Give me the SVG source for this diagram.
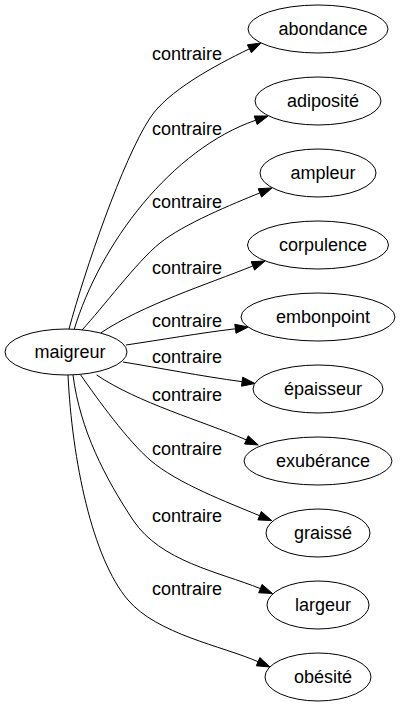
<svg xmlns="http://www.w3.org/2000/svg" width="400" height="707" viewBox="0 0 400 707">
<style>
.n ellipse{fill:#fff;stroke:#000;stroke-width:1}
text{font-family:"Liberation Sans",Arial,sans-serif;font-size:18px;fill:#000}
.n text{text-anchor:middle}
.e path{fill:none;stroke:#000;stroke-width:1}
.e polygon{fill:#000;stroke:#000;stroke-width:1}
</style>
<rect width="400" height="707" fill="#fff"/>
<g class="e" id="edges">
<path d="M69,329 C85,270 122.5,160 150,118 C167.6,91.1 214,66 249.4,48.8"/>
<polygon points="261,43 251.4,52.8 247.4,44.8"/>
<text x="152" y="60">contraire</text>
<path d="M74,330 C100,243.6 171.5,149.3 255.7,120.2"/>
<polygon points="268,116 257.2,124.5 254.2,116"/>
<text x="152" y="135">contraire</text>
<path d="M82,330 C102.4,308.1 136.6,261.9 160,243 C183.4,224.1 233.1,203.75 259.9,192.9"/>
<polygon points="272,188 261.6,197.1 258.2,188.7"/>
<text x="152" y="208">contraire</text>
<path d="M100.7,333 C142.2,305 207.5,284.3 252.9,265.9"/>
<polygon points="265,261 254.6,270.1 251.2,261.7"/>
<text x="152" y="274">contraire</text>
<path d="M126,345 C160,340 200,333 235.4,328.8"/>
<polygon points="248.3,327 236,333.3 234.8,324.3"/>
<text x="152" y="327">contraire</text>
<path d="M123,362 C160,368 200,376 242.1,381.7"/>
<polygon points="255,383.5 241.5,386.2 242.7,377.2"/>
<text x="152" y="363">contraire</text>
<path d="M96.7,375 C138.2,403 201.4,420.6 246.4,439.9"/>
<polygon points="258.3,445 244.6,444 248.2,435.8"/>
<text x="152" y="401">contraire</text>
<path d="M80.7,375 C97.8,399.6 128,441 150,460 C177.3,483.5 228.1,502.5 259.6,515.7"/>
<polygon points="271.7,520.5 257.9,519.9 261.3,511.5"/>
<text x="152" y="455">contraire</text>
<path d="M73,375 C80,430 105.5,478.5 133,520 C160.5,561.5 218.9,571.9 260.4,588.6"/>
<polygon points="272.5,593.5 258.7,592.8 262.1,584.4"/>
<text x="152" y="522">contraire</text>
<path d="M68,375 C72,460 92.25,558.2 128,600 C157.25,634.2 221.4,645.8 258.1,661.7"/>
<polygon points="270,667 256.3,665.8 259.9,657.6"/>
<text x="152" y="595">contraire</text>
</g>
<g class="n" id="maigreur"><ellipse cx="66" cy="352" rx="61" ry="23"/><text x="70" y="358">maigreur</text></g>
<g class="n" id="abondance"><ellipse cx="318" cy="29" rx="70" ry="24"/><text x="323" y="35">abondance</text></g>
<g class="n" id="adiposite"><ellipse cx="318" cy="101" rx="63" ry="24"/><text x="323" y="107">adiposité</text></g>
<g class="n" id="ampleur"><ellipse cx="318" cy="173" rx="58" ry="24"/><text x="323" y="179">ampleur</text></g>
<g class="n" id="corpulence"><ellipse cx="318" cy="245" rx="70.5" ry="24"/><text x="323" y="251">corpulence</text></g>
<g class="n" id="embonpoint"><ellipse cx="318" cy="317" rx="77" ry="24"/><text x="323" y="323">embonpoint</text></g>
<g class="n" id="epaisseur"><ellipse cx="318" cy="389" rx="65" ry="24"/><text x="323" y="395">épaisseur</text></g>
<g class="n" id="exuberance"><ellipse cx="318" cy="461" rx="74" ry="24"/><text x="323" y="467">exubérance</text></g>
<g class="n" id="graisse"><ellipse cx="318" cy="533" rx="52" ry="24"/><text x="323" y="539">graissé</text></g>
<g class="n" id="largeur"><ellipse cx="318" cy="605" rx="51" ry="24"/><text x="323" y="611">largeur</text></g>
<g class="n" id="obesite"><ellipse cx="318" cy="677" rx="53" ry="24"/><text x="323" y="683">obésité</text></g>
</svg>
